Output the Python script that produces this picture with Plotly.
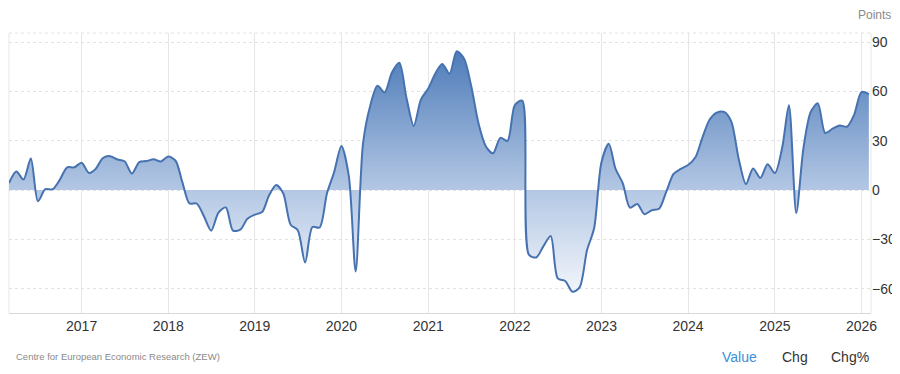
import plotly.graph_objects as go
import pandas as pd

# ZEW Economic Sentiment (Germany), monthly, Mar 2016 - Feb 2026
start_month = "2016-03-01"
values = [
    4.3, 11.2, 6.4, 19.2, -6.8, 0.5, 0.5, 6.2, 13.8, 13.8,            # 2016 Mar-Dec
    16.6, 10.4, 12.8, 19.5, 20.6, 18.6, 17.5, 10.0, 17.0, 17.6, 18.7, 17.4,   # 2017
    20.4, 17.8, 5.1, -8.2, -8.2, -16.1, -24.7, -13.7, -10.6, -24.7, -24.1, -17.5,  # 2018
    -15.0, -13.4, -3.6, 3.1, -2.1, -21.1, -24.5, -44.1, -22.5, -22.8, -2.1, 10.7,  # 2019
    26.7, 8.7, -49.5, 28.2, 51.0, 63.4, 59.3, 71.5, 77.4, 56.1, 39.0, 55.0,   # 2020
    61.8, 71.2, 76.6, 70.7, 84.4, 79.8, 63.3, 40.4, 26.5, 22.3, 31.7, 29.9,   # 2021
    51.7, 54.3, -39.3, -41.0, -34.3, -28.0, -53.8, -55.3, -61.9, -59.2, -36.7, -23.3,  # 2022
    16.9, 28.1, 13.0, 4.1, -10.7, -8.5, -14.7, -12.3, -11.4, -1.1, 9.8, 12.8,  # 2023
    15.2, 19.9, 31.7, 42.9, 47.1, 47.5, 41.8, 19.2, 3.6, 13.1, 7.4, 15.7,     # 2024
    10.3, 26.0, 51.6, -14.0, 25.2, 47.5, 52.7, 34.7, 37.3, 39.3, 38.5, 45.8,  # 2025
    59.6, 58.3,                                                          # 2026
]
dates = pd.date_range(start_month, periods=len(values), freq="MS")

year_ticks = [f"{y}-01-01" for y in range(2017, 2027)]
year_labels = [str(y) for y in range(2017, 2027)]
y_ticks = [-60, -30, 0, 30, 60, 90]

fig = go.Figure()
fig.add_trace(go.Scatter(
    x=dates, y=values,
    mode="lines",
    line=dict(color="#4672b0", width=2, shape="spline", smoothing=0.8),
    fill="tozeroy",
    fillgradient=dict(
        type="vertical",
        colorscale=[[0, "#ffffff"], [0.45, "#b3c7e4"], [1, "#4575b5"]],
        start=-75, stop=92,
    ),
    hoverinfo="x+y",
))

grid_col = "#e6e6e6"
# page body has an 8px default margin, so the figure is 8px smaller and margins shifted
fig.update_layout(
    width=892, height=366,
    margin=dict(l=1, r=29, t=25, b=61, autoexpand=False),
    paper_bgcolor="white", plot_bgcolor="white",
    showlegend=False,
    font=dict(family="Liberation Sans, Arial, sans-serif", size=14, color="#333333"),
    xaxis=dict(
        type="date",
        range=["2016-03-01", "2026-02-10"],
        tickvals=year_ticks, ticktext=year_labels,
        showgrid=True, gridcolor=grid_col, gridwidth=1,
        showline=True, linecolor="#d8d8d8", linewidth=1,
        ticks="", zeroline=False, automargin=False,
        tickfont=dict(size=14, color="#333333"),
    ),
    yaxis=dict(
        side="right",
        range=[-74.8, 95.5],
        tickvals=y_ticks,
        showgrid=True, gridcolor="#e2e2e2", griddash="dot", gridwidth=1,
        zeroline=False, showline=False, ticks="", automargin=False,
        tickfont=dict(size=14, color="#333333"),
    ),
    shapes=[
        dict(type="line", xref="paper", yref="paper", x0=0, x1=0, y0=0, y1=1,
             line=dict(color="#e6e6e6", width=1), layer="below"),
        dict(type="line", xref="paper", yref="paper", x0=1, x1=1, y0=0, y1=1,
             line=dict(color="#e6e6e6", width=1), layer="below"),
        dict(type="line", xref="paper", yref="paper", x0=0, x1=1, y0=1, y1=1,
             line=dict(color="#e2e2e2", width=1, dash="dot"), layer="below"),
    ],
    annotations=[
        dict(text="Points", xref="paper", yref="paper", x=1.0255, y=1.064,
             xanchor="right", yanchor="middle", showarrow=False,
             font=dict(size=12, color="#8a8a8a")),
        dict(text="Centre for European Economic Research (ZEW)", xref="paper", yref="paper",
             x=0.0058, y=-0.157, xanchor="left", yanchor="middle", showarrow=False,
             font=dict(family="Liberation Sans, Arial", size=9.5, color="#8a8a8a")),
        dict(text="Value", xref="paper", yref="paper", x=0.847, y=-0.157,
             xanchor="center", yanchor="middle", showarrow=False,
             font=dict(size=14, color="#3b8fdc")),
        dict(text="Chg", xref="paper", yref="paper", x=0.912, y=-0.157,
             xanchor="center", yanchor="middle", showarrow=False,
             font=dict(size=14, color="#333333")),
        dict(text="Chg%", xref="paper", yref="paper", x=0.976, y=-0.157,
             xanchor="center", yanchor="middle", showarrow=False,
             font=dict(size=14, color="#333333")),
    ],
)

fig.write_html("out.html")
